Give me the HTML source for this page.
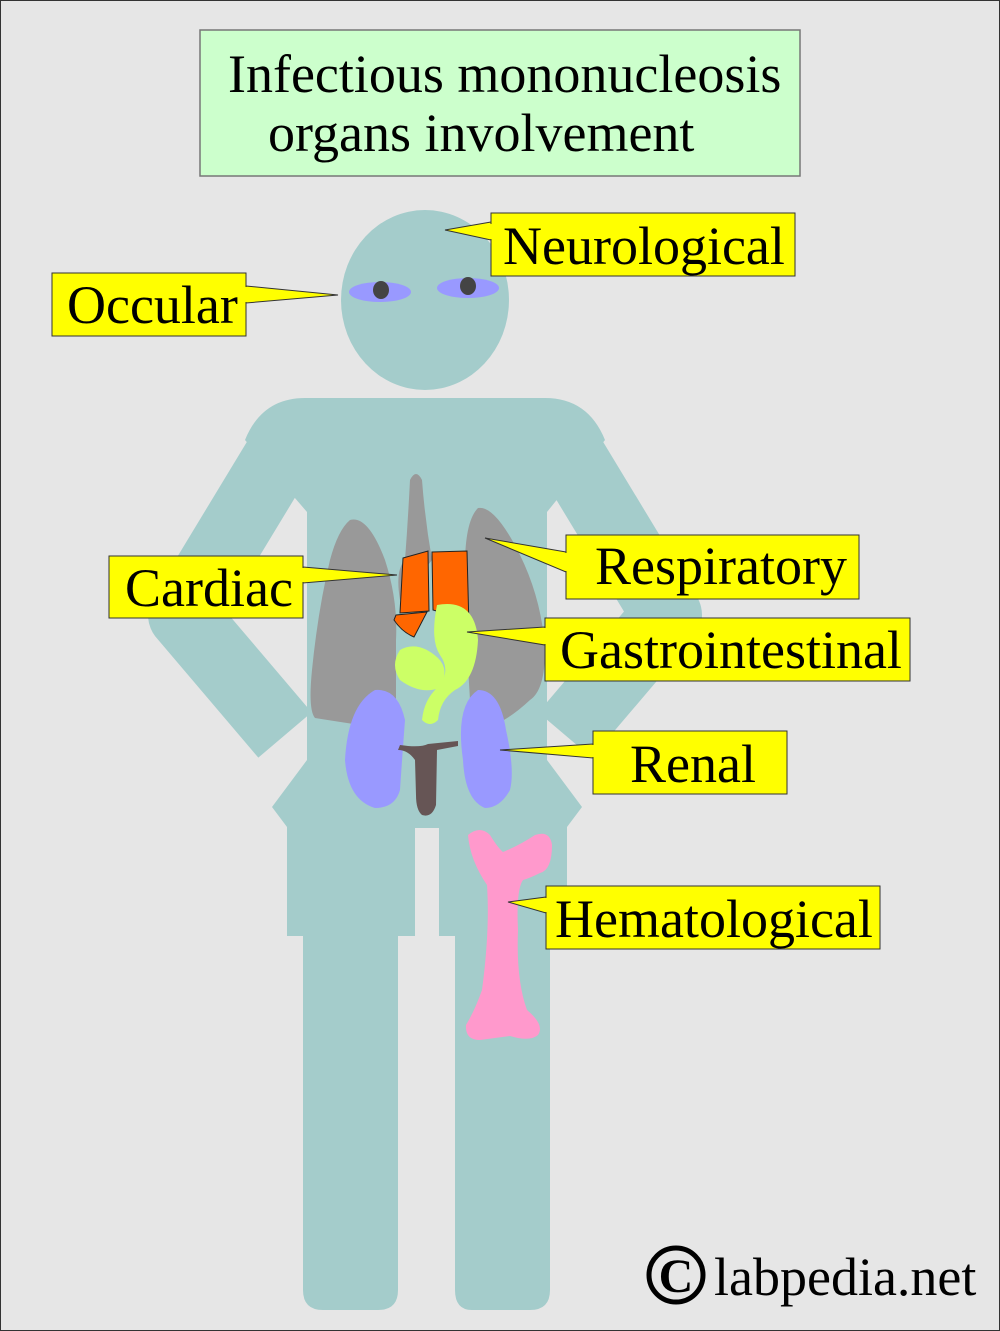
<!DOCTYPE html>
<html><head><meta charset="utf-8"><style>
html,body{margin:0;padding:0;background:#e6e6e6}
svg{display:block}
text{font-family:"Liberation Serif",serif;fill:#000}
</style></head><body>
<svg width="1000" height="1331" viewBox="0 0 1000 1331" xmlns="http://www.w3.org/2000/svg">
<rect x="0.5" y="0.5" width="999" height="1330" fill="#e6e6e6" stroke="#333" stroke-width="1"/>
<!-- title -->
<rect x="200" y="30" width="600" height="146" fill="#ccffcc" stroke="#777" stroke-width="1.5"/>
<text x="228" y="92" font-size="54">Infectious mononucleosis</text>
<text x="268" y="151" font-size="54">organs involvement</text>

<g fill="#a4cccb">
<ellipse cx="425" cy="300" rx="84" ry="90"/>
<polyline points="295,430 183,615 285,735" fill="none" stroke="#a4cccb" stroke-width="70" stroke-linejoin="round" stroke-linecap="butt"/>
<polyline points="555,430 667,615 565,735" fill="none" stroke="#a4cccb" stroke-width="70" stroke-linejoin="round" stroke-linecap="butt"/>
<path d="M245,440 Q262,398 305,398 L545,398 Q588,398 605,440 L547,512 L547,760 L582,807 L567,827 L567,936 L550,936 L550,1290 Q550,1310 530,1310 L472,1310 Q455,1310 455,1290 L455,936 L439,936 L439,828 L415,828 L415,936 L398,936 L398,1290 Q398,1310 378,1310 L323,1310 Q303,1310 303,1290 L303,936 L287,936 L287,827 L272,807 L307,760 L307,512 Z"/>
</g>

<!-- eyes -->
<ellipse cx="380" cy="292" rx="31" ry="10" fill="#9999ff"/>
<ellipse cx="468" cy="288" rx="31" ry="10" fill="#9999ff"/>
<ellipse cx="381" cy="290" rx="8" ry="9" fill="#444"/>
<ellipse cx="468" cy="286" rx="8" ry="9" fill="#444"/>

<!-- lungs -->
<g fill="#999">
<path d="M410,480 Q416,468 422,480 Q425,520 432,560 L400,600 Q395,570 405,560 Q408,520 410,480 Z"/>
<path d="M350,520 Q368,515 385,560 Q398,600 396,640 L396,725 Q395,730 380,728 Q340,722 315,718 Q308,710 312,670 Q318,610 330,560 Q338,530 350,520 Z"/>
<path d="M478,508 Q495,505 520,555 Q542,600 545,650 Q545,690 530,700 Q500,728 478,728 L470,700 Q465,620 465,560 Q466,520 478,508 Z"/>
</g>
<!-- heart -->
<g fill="#ff6600" stroke="#222" stroke-width="1">
<path d="M403,558 L428,551 L429,611 L400,613 Z"/>
<path d="M432,552 L467,551 L469,628 L448,632 L440,612 L433,610 Z"/>
<path d="M396,615 L427,612 L414,637 Q402,632 394,620 Z"/>
</g>
<!-- GI -->
<path d="M437,605 Q475,598 478,640 Q476,680 455,690 Q440,700 438,720 Q430,728 422,720 Q424,700 437,688 Q452,672 440,655 Q430,640 437,605 Z" fill="#ccff66"/>
<path d="M400,650 Q418,640 438,658 Q450,670 440,688 Q420,695 400,680 Q390,665 400,650 Z" fill="#ccff66"/>
<!-- kidneys -->
<path d="M375,690 Q398,688 405,720 Q402,760 400,790 Q395,808 375,808 Q348,800 345,760 Q348,705 375,690 Z" fill="#9999ff"/>
<path d="M478,690 Q500,690 506,730 Q515,770 510,790 Q500,808 485,808 Q465,800 463,760 Q455,705 478,690 Z" fill="#9999ff"/>
<!-- ureter -->
<path d="M400,745 Q420,748 428,744 L458,741 L458,746 L437,750 L436,805 Q432,818 422,815 Q416,810 416,795 L415,760 Q408,750 398,750 Z" fill="#665555"/>
<!-- bone -->
<path d="M468,835 Q480,825 490,835 Q498,848 503,852 Q520,845 535,835 Q550,830 552,845 Q552,870 540,873 Q530,878 523,880 Q516,890 518,930 Q516,980 527,1010 Q545,1025 538,1035 Q530,1042 510,1036 Q495,1038 480,1040 Q465,1040 466,1025 Q475,1010 482,990 Q490,930 487,885 Q470,860 468,835 Z" fill="#ff99cc"/>

<!-- callouts -->
<g fill="#ffff00" stroke="#333" stroke-width="1">
<polygon points="491,222 445,230 491,240"/>
<rect x="491" y="213" width="304" height="63"/>
<polygon points="246,286 338,295 246,303"/>
<rect x="52" y="273" width="194" height="63"/>
<polygon points="566,552 485,538 566,572"/>
<rect x="566" y="535" width="293" height="64"/>
<polygon points="303,567 397,575 303,583"/>
<rect x="109" y="556" width="194" height="62"/>
<polygon points="545,627 467,632 545,645"/>
<rect x="545" y="618" width="365" height="63"/>
<polygon points="593,744 500,750 593,758"/>
<rect x="593" y="731" width="194" height="63"/>
<polygon points="546,897 508,902 546,913"/>
<rect x="546" y="886" width="334" height="63"/>
</g>
<g stroke="none" fill="#ffff00">
<rect x="490" y="224" width="3" height="15"/>
<rect x="245" y="287" width="3" height="15"/>
<rect x="565" y="553" width="3" height="18"/>
<rect x="302" y="568" width="3" height="14"/>
<rect x="544" y="628" width="3" height="16"/>
<rect x="592" y="745" width="3" height="12"/>
<rect x="545" y="898" width="3" height="14"/>
</g>
<text x="503" y="264" font-size="54">Neurological</text>
<text x="67" y="323" font-size="54">Occular</text>
<text x="595" y="584" font-size="54">Respiratory</text>
<text x="125" y="606" font-size="54">Cardiac</text>
<text x="560" y="668" font-size="54">Gastrointestinal</text>
<text x="630" y="782" font-size="54">Renal</text>
<text x="555" y="937" font-size="54">Hematological</text>

<!-- copyright -->
<circle cx="676" cy="1275" r="27" fill="none" stroke="#000" stroke-width="5"/>
<text x="676" y="1292" font-size="48" text-anchor="middle" font-weight="bold">C</text>
<text x="714" y="1295" font-size="54">labpedia.net</text>
</svg>
</body></html>
